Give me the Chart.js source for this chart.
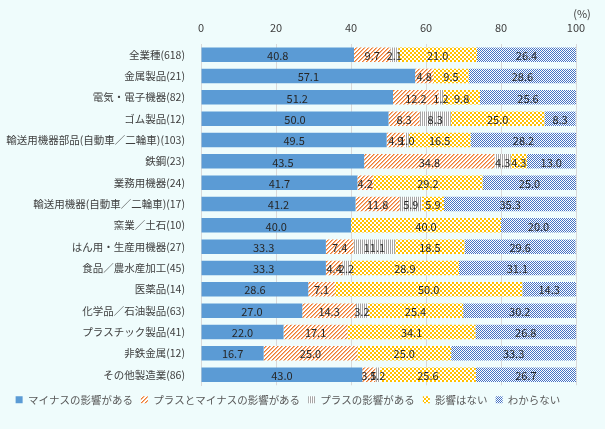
<!DOCTYPE html>
<html>
<head>
<meta charset="utf-8">
<script src="https://cdn.jsdelivr.net/npm/chart.js@4"></script>
<style>
  html, body { margin: 0; padding: 0; background: #effcfc; }
  #wrap { width: 605px; height: 429px; }
</style>
</head>
<body>
<div id="wrap"><canvas id="chart" width="605" height="429"></canvas></div>
<script>
// categories (top to bottom)
var categories = [
  '全業種(618)', '金属製品(21)', '電気・電子機器(82)', 'ゴム製品(12)',
  '輸送用機器部品(自動車／二輪車)(103)', '鉄鋼(23)', '業務用機器(24)',
  '輸送用機器(自動車／二輪車)(17)', '窯業／土石(10)', 'はん用・生産用機器(27)',
  '食品／農水産加工(45)', '医薬品(14)', '化学品／石油製品(63)',
  'プラスチック製品(41)', '非鉄金属(12)', 'その他製造業(86)'
];
var seriesNames = ['マイナスの影響がある', 'プラスとマイナスの影響がある', 'プラスの影響がある', '影響はない', 'わからない'];
var minus   = [40.8, 57.1, 51.2, 50.0, 49.5, 43.5, 41.7, 41.2, 40.0, 33.3, 33.3, 28.6, 27.0, 22.0, 16.7, 43.0];
var both    = [9.7, 4.8, 12.2, 8.3, 4.9, 34.8, 4.2, 11.8, 0, 7.4, 4.4, 7.1, 14.3, 17.1, 25.0, 3.5];
var plus    = [2.1, 0, 1.2, 8.3, 1.0, 4.3, 0, 5.9, 0, 11.1, 2.2, 0, 3.2, 0, 0, 1.2];
var none    = [21.0, 9.5, 9.8, 25.0, 16.5, 4.3, 29.2, 5.9, 40.0, 18.5, 28.9, 50.0, 25.4, 34.1, 25.0, 25.6];
var unknown = [26.4, 28.6, 25.6, 8.3, 28.2, 13.0, 25.0, 35.3, 20.0, 29.6, 31.1, 14.3, 30.2, 26.8, 33.3, 26.7];
var xTicks = [0, 20, 40, 60, 80, 100];

var FONT = '"Noto Sans CJK JP", "DejaVu Sans", sans-serif';
var ctx = document.getElementById('chart').getContext('2d');

function makePattern(w, h, draw) {
  var c = document.createElement('canvas');
  c.width = w; c.height = h;
  var x = c.getContext('2d');
  draw(x);
  return ctx.createPattern(c, 'repeat');
}

var hatchOrange = makePattern(4, 4, function (x) {
  x.fillStyle = '#ffffff'; x.fillRect(0, 0, 4, 4);
  x.fillStyle = '#ed7d31';
  for (var i = 0; i < 4; i++) x.fillRect(i, 3 - i, 1, 1);
  x.fillStyle = '#f6b48a';
  for (var j = 0; j < 4; j++) x.fillRect(j, (4 - j) % 4, 1, 1);
});
var stripeGrey = makePattern(2, 1, function (x) {
  x.fillStyle = '#ffffff'; x.fillRect(0, 0, 2, 1);
  x.fillStyle = '#a5a5a5'; x.fillRect(0, 0, 1, 1);
});
var checkYellow = makePattern(4, 4, function (x) {
  x.fillStyle = '#ffc000'; x.fillRect(0, 0, 4, 4);
  x.fillStyle = '#ffffff'; x.fillRect(0, 0, 2, 2); x.fillRect(2, 2, 2, 2);
});
var checkBlue = makePattern(2, 2, function (x) {
  x.fillStyle = '#ffffff'; x.fillRect(0, 0, 2, 2);
  x.fillStyle = '#4472c4'; x.fillRect(0, 0, 1, 1); x.fillRect(1, 1, 1, 1);
});

// labels in the middle of each segment
var segLabels = {
  id: 'segLabels',
  afterDatasetsDraw: function (chart) {
    var c = chart.ctx;
    c.save();
    c.font = '11px ' + FONT;
    c.fillStyle = '#262626';
    c.textAlign = 'center';
    c.textBaseline = 'middle';
    chart.data.datasets.forEach(function (ds, di) {
      chart.getDatasetMeta(di).data.forEach(function (bar, i) {
        var v = ds.data[i];
        if (!v) return;
        c.fillText(v.toFixed(1), (bar.x + bar.base) / 2, bar.y + 1);
      });
    });
    c.restore();
  }
};

var unitLabel = {
  id: 'unitLabel',
  afterDraw: function (chart) {
    var c = chart.ctx;
    c.save();
    c.font = '11px ' + FONT;
    c.fillStyle = '#404040';
    c.textAlign = 'center';
    c.fillText('(%)', 582, 14);
    c.restore();
  }
};

var fills = ['#5b9bd5', hatchOrange, stripeGrey, checkYellow, checkBlue];
var values = [minus, both, plus, none, unknown];

new Chart(ctx, {
  type: 'bar',
  data: {
    labels: categories,
    datasets: seriesNames.map(function (n, i) {
      return {
        label: n,
        data: values[i],
        backgroundColor: fills[i],
        borderWidth: 0,
        barPercentage: 0.68,
        categoryPercentage: 1
      };
    })
  },
  options: {
    indexAxis: 'y',
    responsive: false,
    animation: false,
    layout: { padding: { top: 0, right: 29, bottom: 14, left: 0 } },
    scales: {
      x: {
        position: 'top',
        stacked: true,
        min: 0, max: 100,
        afterBuildTicks: function (s) { s.ticks = xTicks.map(function (v) { return { value: v }; }); },
        afterFit: function (s) { s.height = 44; },
        grid: { color: '#d9d9d9', drawTicks: false },
        border: { display: false },
        ticks: { color: '#404040', font: { size: 11, family: FONT }, padding: 10 }
      },
      y: {
        stacked: true,
        afterFit: function (s) { s.width = 201; },
        grid: { display: false },
        border: { color: '#d9d9d9' },
        ticks: { color: '#404040', font: { size: 10.5, family: FONT }, padding: 8, autoSkip: false }
      }
    },
    plugins: {
      legend: {
        position: 'bottom',
        title: { display: true, text: ' ', font: { size: 1 }, padding: { top: 0, bottom: 0 } },
        labels: {
          boxWidth: 7, boxHeight: 7,
          color: '#595959',
          padding: 8,
          font: { size: 10.5, family: FONT }
        }
      },
      tooltip: { enabled: false }
    }
  },
  plugins: [segLabels, unitLabel]
});
</script>
</body>
</html>
